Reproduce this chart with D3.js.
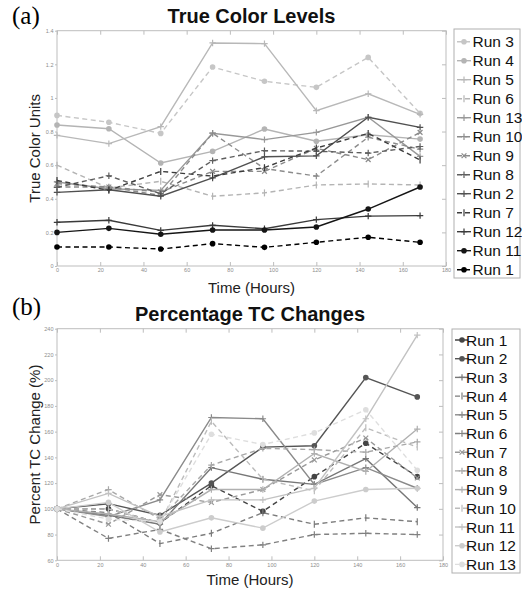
<!DOCTYPE html>
<html>
<head>
<meta charset="utf-8">
<script src="https://cdn.jsdelivr.net/npm/d3@7"></script>
<style>
  body { margin: 0; background: #fff; }
  svg { display: block; font-family: "Liberation Sans", Arial, sans-serif; }
</style>
</head>
<body>
<div id="chart"></div>
<script>
const hours = [0, 24, 48, 72, 96, 120, 144, 168];
const hourTicks = [0, 20, 40, 60, 80, 100, 120, 140, 160, 180];
const tcTicks = [0, 0.2, 0.4, 0.6, 0.8, 1, 1.2, 1.4];
const pctTicks = [60, 80, 100, 120, 140, 160, 180, 200, 220, 240];

// true colour units, per run
const tc1  = [0.113, 0.113, 0.101, 0.133, 0.111, 0.141, 0.171, 0.141];
const tc2  = [0.438, 0.454, 0.415, 0.524, 0.650, 0.655, 0.885, 0.825];
const tc3  = [0.896, 0.855, 0.789, 1.184, 1.099, 1.063, 1.241, 0.908];
const tc4  = [0.839, 0.817, 0.613, 0.682, 0.815, 0.742, 0.781, 0.755];
const tc5  = [0.777, 0.728, 0.829, 1.327, 1.323, 0.924, 1.025, 0.902];
const tc6  = [0.600, 0.464, 0.504, 0.415, 0.435, 0.482, 0.488, 0.482];
const tc7  = [0.509, 0.450, 0.563, 0.535, 0.585, 0.702, 0.789, 0.631];
const tc8  = [0.468, 0.537, 0.430, 0.627, 0.686, 0.683, 0.672, 0.711];
const tc9  = [0.490, 0.470, 0.440, 0.563, 0.563, 0.700, 0.633, 0.795];
const tc10 = [0.470, 0.470, 0.420, 0.790, 0.580, 0.535, 0.766, 0.695];
const tc11 = [0.200, 0.224, 0.189, 0.214, 0.214, 0.232, 0.339, 0.470];
const tc12 = [0.260, 0.272, 0.212, 0.242, 0.222, 0.276, 0.297, 0.300];
const tc13 = [0.500, 0.460, 0.450, 0.790, 0.752, 0.795, 0.885, 0.652];

// percent of the starting true colour, per run
const pc1  = [100, 100, 89, 118, 98, 125, 151, 125];
const pc2  = [100, 104, 95, 120, 148, 149, 202, 187];
const pc3  = [100, 95, 88, 132, 123, 119, 139, 101];
const pc4  = [100, 97, 73, 81, 97, 88, 93, 90];
const pc5  = [100, 94, 107, 171, 170, 119, 132, 116];
const pc6  = [100, 77, 84, 69, 72, 80, 81, 80];
const pc7  = [100, 88, 111, 105, 115, 138, 155, 124];
const pc8  = [100, 115, 92, 134, 147, 146, 144, 152];
const pc9  = [100, 96, 90, 115, 115, 143, 129, 162];
const pc10 = [100, 100, 89, 168, 123, 114, 163, 148];
const pc11 = [100, 112, 94, 107, 107, 116, 170, 235];
const pc12 = [100, 105, 82, 93, 85, 106, 115, 116];
const pc13 = [100, 92, 90, 158, 150, 159, 177, 130];

const namesA = ['Run 3', 'Run 4', 'Run 5', 'Run 6', 'Run 13', 'Run 10', 'Run 9',
                'Run 8', 'Run 2', 'Run 7', 'Run 12', 'Run 11', 'Run 1'];
const valuesA = [tc3, tc4, tc5, tc6, tc13, tc10, tc9, tc8, tc2, tc7, tc12, tc11, tc1];
const namesB = ['Run 1', 'Run 2', 'Run 3', 'Run 4', 'Run 5', 'Run 6', 'Run 7',
                'Run 8', 'Run 9', 'Run 10', 'Run 11', 'Run 12', 'Run 13'];
const valuesB = [pc1, pc2, pc3, pc4, pc5, pc6, pc7, pc8, pc9, pc10, pc11, pc12, pc13];

// style follows the legend slot, not the run
const slotMarker = ['o', 'o', '+', '|', '+', '+', 'x', '+', '+', '|', '+', 'o', 'o'];
const slotDashed = [true, false, false, true, false, true, true, true, false, true, false, false, true];
const greysA = ['#c6c6c6', '#b4b4b4', '#b8b8b8', '#b4b4b4', '#989898', '#8c8c8c', '#8a8a8a',
                '#5e5e5e', '#505050', '#3c3c3c', '#3a3a3a', '#151515', '#000000'];
const greysB = ['#444444', '#555555', '#777777', '#7c7c7c', '#8a8a8a', '#808080', '#999999',
                '#a8a8a8', '#b0b0b0', '#bcbcbc', '#c2c2c2', '#cccccc', '#dedede'];

const W = 522, H = 591;
const svg = d3.select('#chart').append('svg')
  .attr('width', W)
  .attr('height', H);

function marker(g, type, color) {
  if (type === 'o') {
    g.append('circle').attr('r', 2.8).attr('fill', color);
    return;
  }
  const d = type === '+' ? 'M-3.2,0H3.2M0,-3.2V3.2'
          : type === 'x' ? 'M-2.4,-2.4L2.4,2.4M-2.4,2.4L2.4,-2.4'
          : 'M0,-3.5V3.5';
  g.append('path').attr('d', d).attr('stroke', color).attr('stroke-width', 1.2).attr('fill', 'none');
}

function drawPanel(p) {
  const x = d3.scaleLinear().domain([0, 180]).range([p.left, p.right]);
  const y = d3.scaleLinear().domain(p.yDomain).range([p.bottom, p.top]);
  const g = svg.append('g');
  const axisGrey = '#bdbdbd';

  g.append('rect')
    .attr('x', p.left).attr('y', p.top)
    .attr('width', p.right - p.left).attr('height', p.bottom - p.top)
    .attr('fill', 'none').attr('stroke', axisGrey).attr('stroke-width', 1);

  const styleAxis = sel => {
    sel.select('.domain').remove();
    sel.selectAll('line').attr('stroke', axisGrey);
    sel.selectAll('text').attr('fill', '#8c8c8c').attr('font-size', 5.5);
  };

  g.append('g').attr('transform', `translate(0,${p.bottom})`)
    .call(d3.axisBottom(x).tickValues(hourTicks).tickSizeInner(-4).tickSizeOuter(0).tickPadding(2.5))
    .call(styleAxis);
  g.append('g').attr('transform', `translate(0,${p.top})`)
    .call(d3.axisTop(x).tickValues(hourTicks).tickSizeInner(-4).tickSizeOuter(0).tickFormat(''))
    .call(styleAxis);
  g.append('g').attr('transform', `translate(${p.left},0)`)
    .call(d3.axisLeft(y).tickValues(p.yTicks).tickSizeInner(2).tickSizeOuter(0).tickPadding(1.5)
      .tickFormat(p.tickFormat))
    .call(styleAxis);
  g.append('g').attr('transform', `translate(${p.right},0)`)
    .call(d3.axisRight(y).tickValues(p.yTicks).tickSizeInner(-4).tickSizeOuter(0).tickFormat(''))
    .call(styleAxis);

  const line = d3.line().x((d, i) => x(hours[i])).y(d => y(d));
  p.values.forEach((vals, k) => {
    const color = p.greys[k];
    const s = g.append('g');
    s.append('path')
      .attr('d', line(vals))
      .attr('fill', 'none')
      .attr('stroke', color)
      .attr('stroke-width', 1.4)
      .attr('stroke-dasharray', slotDashed[k] ? '5,3.5' : null);
    vals.forEach((v, i) => {
      marker(s.append('g').attr('transform', `translate(${x(hours[i])},${y(v)})`), slotMarker[k], color);
    });
  });

  // titles and labels
  svg.append('text')
    .attr('x', 12).attr('y', p.tagY)
    .attr('font-family', '"Liberation Serif", "Times New Roman", serif')
    .attr('font-size', 25)
    .text(p.tag);
  svg.append('text')
    .attr('x', (p.left + p.right) / 2).attr('y', p.titleY)
    .attr('text-anchor', 'middle')
    .attr('font-size', 20).attr('font-weight', 'bold')
    .attr('fill', '#111')
    .text(p.title);
  svg.append('text')
    .attr('x', (p.left + p.right) / 2).attr('y', p.xLabelY)
    .attr('text-anchor', 'middle')
    .attr('font-size', 15).attr('fill', '#222')
    .text('Time (Hours)');
  svg.append('text')
    .attr('transform', `translate(40,${(p.top + p.bottom) / 2}) rotate(-90)`)
    .attr('text-anchor', 'middle')
    .attr('font-size', 15).attr('fill', '#222')
    .text(p.yLabel);

  // legend
  const lg = svg.append('g');
  lg.append('rect')
    .attr('x', p.legend.x).attr('y', p.legend.y)
    .attr('width', p.legend.w).attr('height', p.legend.h)
    .attr('fill', '#fff').attr('stroke', '#b0b0b0').attr('stroke-width', 1);
  p.names.forEach((name, k) => {
    const cy = p.legend.first + k * p.legend.step;
    const x0 = p.legend.x + 3;
    const color = p.greys[k];
    lg.append('line')
      .attr('x1', x0).attr('x2', x0 + 14)
      .attr('y1', cy).attr('y2', cy)
      .attr('stroke', color).attr('stroke-width', 1.4)
      .attr('stroke-dasharray', slotDashed[k] ? '5,3' : null);
    marker(lg.append('g').attr('transform', `translate(${x0 + 7},${cy})`), slotMarker[k], color);
    lg.append('text')
      .attr('x', p.legend.textX).attr('y', cy)
      .attr('dy', '0.36em')
      .attr('font-size', 15.5).attr('fill', '#111')
      .text(name);
  });
}

drawPanel({
  tag: '(a)', tagY: 24,
  title: 'True Color Levels', titleY: 23,
  yLabel: 'True Color Units', xLabelY: 293,
  left: 57, right: 446, top: 30.7, bottom: 266,
  yDomain: [0, 1.4], yTicks: tcTicks, tickFormat: d3.format('~g'),
  names: namesA, values: valuesA, greys: greysA,
  legend: { x: 454, y: 29, w: 66, h: 249, first: 41.7, step: 19, textX: 472.5 }
});

drawPanel({
  tag: '(b)', tagY: 315,
  title: 'Percentage TC Changes', titleY: 321,
  yLabel: 'Percent TC Change (%)', xLabelY: 585,
  left: 57, right: 443, top: 328.7, bottom: 560.3,
  yDomain: [60, 240], yTicks: pctTicks, tickFormat: d3.format('d'),
  names: namesB, values: valuesB, greys: greysB,
  legend: { x: 452, y: 329, w: 68, h: 244, first: 340, step: 18.7, textX: 466 }
});
</script>
</body>
</html>
